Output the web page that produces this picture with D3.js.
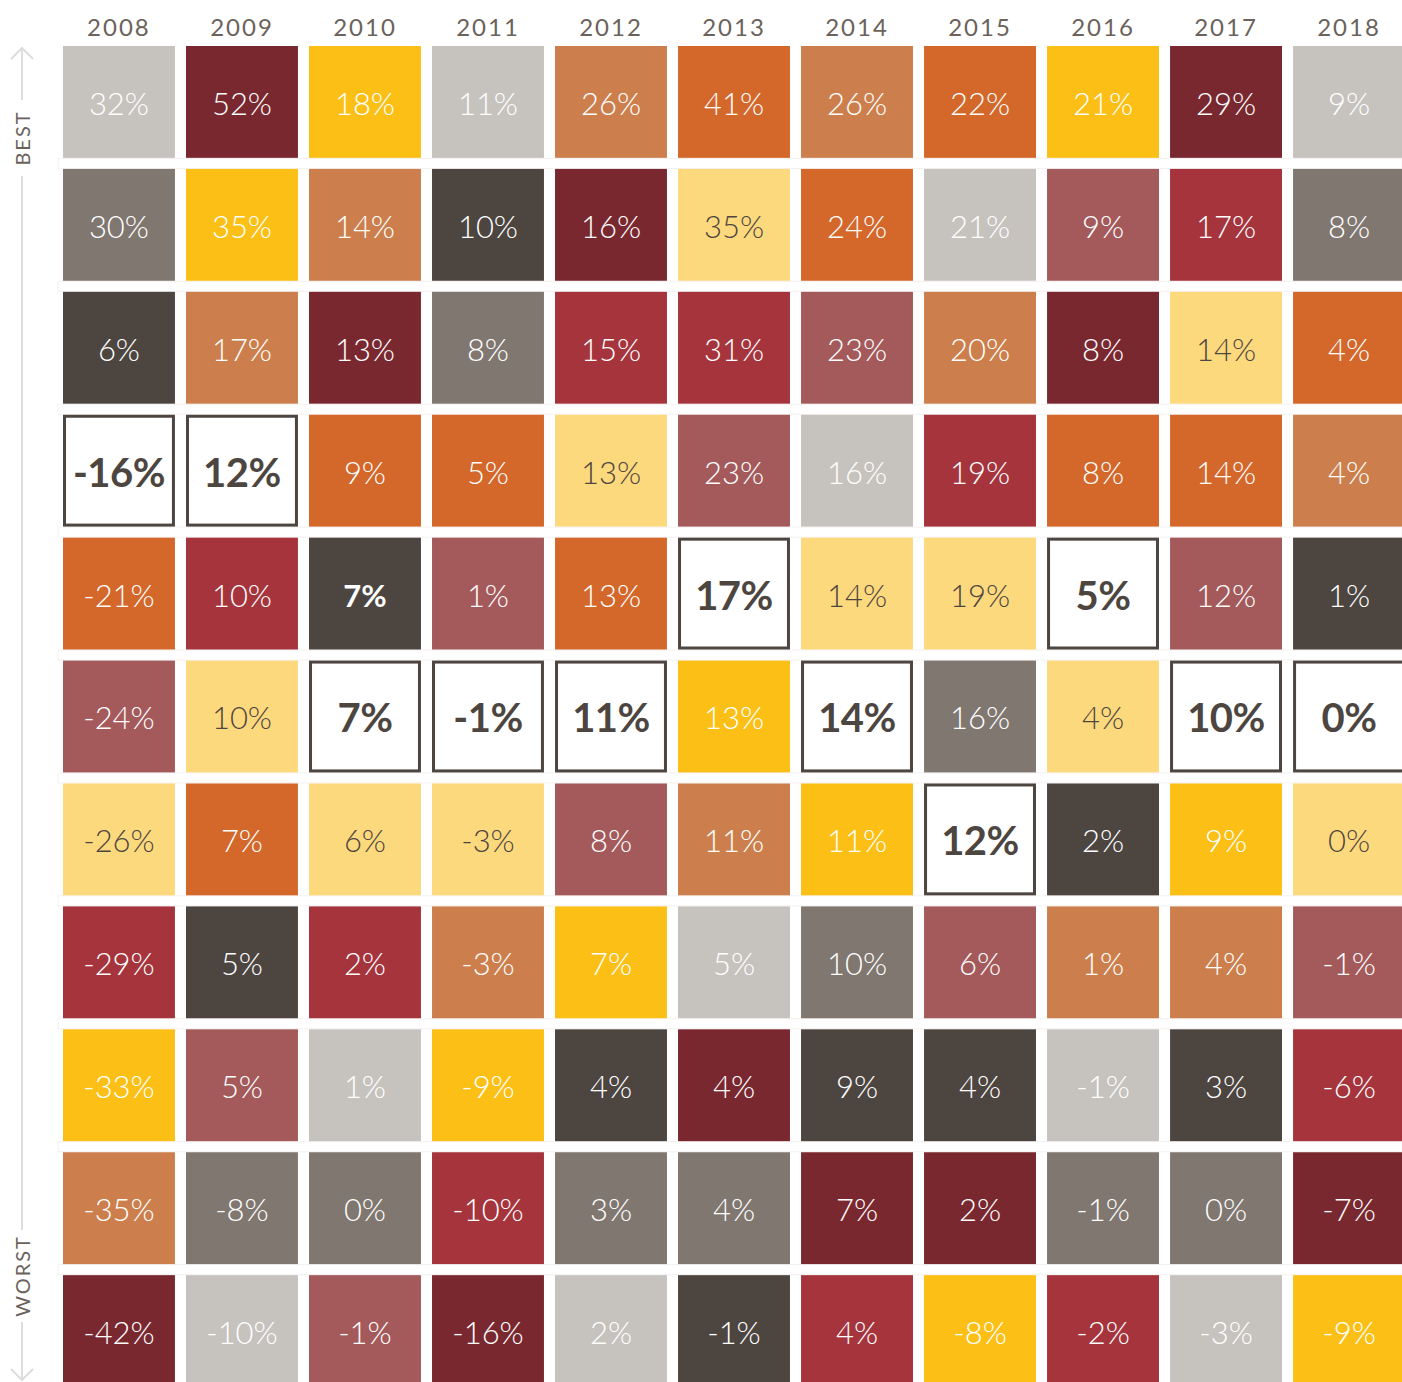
<!DOCTYPE html>
<html>
<head>
<meta charset="utf-8">
<script src="https://cdn.jsdelivr.net/npm/d3@7"></script>
<style>
  html, body { margin: 0; padding: 0; background: #fff; }
  svg { display: block; }
</style>
</head>
<body>
<svg id="quilt" width="1402" height="1382"></svg>
<script>
// ------------------------------------------------------------
// data: yearly returns ranked best -> worst, with asset class
// ------------------------------------------------------------
const years = ["2008","2009","2010","2011","2012","2013","2014","2015","2016","2017","2018"];

// asset class keys + their colours (PF = the portfolio, drawn as outlined box)
const classes = ["LG","MR","YL","TN","OR","MG","LY","DB","RD","RS","PF"];
const classColors = ["#c6c2be","#7a2830","#fbbf16","#cc7f4c","#d4672a","#7f7770","#fdd97e","#4d4540","#a5343d","#a45a5b","#ffffff"];

const rankedClasses = [
  ["LG","MG","DB","PF","OR","RS","LY","RD","YL","TN","MR"], // 2008
  ["MR","YL","TN","PF","RD","LY","OR","DB","RS","MG","LG"], // 2009
  ["YL","TN","MR","OR","DB","PF","LY","RD","LG","MG","RS"], // 2010
  ["LG","DB","MG","OR","RS","PF","LY","TN","YL","RD","MR"], // 2011
  ["TN","MR","RD","LY","OR","PF","RS","YL","DB","MG","LG"], // 2012
  ["OR","LY","RD","RS","PF","YL","TN","LG","MR","MG","DB"], // 2013
  ["TN","OR","RS","LG","LY","PF","YL","MG","DB","MR","RD"], // 2014
  ["OR","LG","TN","RD","LY","MG","PF","RS","DB","MR","YL"], // 2015
  ["YL","RS","MR","OR","PF","LY","DB","TN","LG","MG","RD"], // 2016
  ["MR","RD","LY","OR","RS","PF","YL","TN","DB","MG","LG"], // 2017
  ["LG","MG","OR","TN","DB","PF","LY","RS","RD","MR","YL"]  // 2018
];

const rankedReturns = [
  [32, 30, 6, -16, -21, -24, -26, -29, -33, -35, -42],
  [52, 35, 17, 12, 10, 10, 7, 5, 5, -8, -10],
  [18, 14, 13, 9, 7, 7, 6, 2, 1, 0, -1],
  [11, 10, 8, 5, 1, -1, -3, -3, -9, -10, -16],
  [26, 16, 15, 13, 13, 11, 8, 7, 4, 3, 2],
  [41, 35, 31, 23, 17, 13, 11, 5, 4, 4, -1],
  [26, 24, 23, 16, 14, 14, 11, 10, 9, 7, 4],
  [22, 21, 20, 19, 19, 16, 12, 6, 4, 2, -8],
  [21, 9, 8, 8, 5, 4, 2, 1, -1, -1, -2],
  [29, 17, 14, 14, 12, 10, 9, 4, 3, 0, -3],
  [9, 8, 4, 4, 1, 0, 0, -1, -6, -7, -9]
];

// odd one out in the source: a bold label on a filled cell
const boldCells = [["2010", 4]];

// ------------------------------------------------------------
// build
// ------------------------------------------------------------
const DARK = "#4d4540";
const FONT = "Lato, 'Open Sans', sans-serif";

const cells = [];
years.forEach((yr, i) => {
  rankedClasses[i].forEach((c, r) => {
    cells.push({ year: yr, rank: r, cls: c, value: rankedReturns[i][r] });
  });
});

const svg = d3.select("#quilt");

const x = d3.scaleBand().domain(years).range([63, 1405]).paddingInner(0.09).paddingOuter(0);
const y = d3.scaleBand().domain(d3.range(11)).range([46, 1387]).paddingInner(0.09).paddingOuter(0);
const color = d3.scaleOrdinal().domain(classes).range(classColors);

// year labels
svg.append("g")
  .selectAll("text")
  .data(years)
  .enter()
  .append("text")
  .attr("x", d => x(d) + x.bandwidth() / 2)
  .attr("y", 26)
  .attr("text-anchor", "middle")
  .attr("dominant-baseline", "central")
  .attr("fill", "#6b625c")
  .attr("font-family", FONT)
  .attr("font-size", "24px")
  .attr("letter-spacing", "2px")
  .text(d => d);

// faint row separators
svg.append("g")
  .selectAll("rect")
  .data(d3.range(10))
  .enter()
  .append("rect")
  .attr("x", 58)
  .attr("y", d => y(d) + y.bandwidth() + 0.5)
  .attr("width", 1344)
  .attr("height", y.step() - y.bandwidth() - 1)
  .attr("fill", "none")
  .attr("stroke", "#f5f0f0")
  .attr("stroke-width", 1);

// cells
const isBold = d => boldCells.some(b => b[0] === d.year && b[1] === d.rank);

const cell = svg.append("g")
  .selectAll("g")
  .data(cells)
  .enter()
  .append("g")
  .attr("transform", d => `translate(${x(d.year)}, ${y(d.rank)})`);

cell.append("rect")
  .attr("x", d => d.cls === "PF" ? 1.5 : 0)
  .attr("y", d => d.cls === "PF" ? 1.5 : 0)
  .attr("width", d => d.cls === "PF" ? x.bandwidth() - 3 : x.bandwidth())
  .attr("height", d => d.cls === "PF" ? y.bandwidth() - 3 : y.bandwidth())
  .attr("fill", d => color(d.cls))
  .attr("stroke", d => d.cls === "PF" ? DARK : "none")
  .attr("stroke-width", 3);

cell.append("text")
  .attr("x", x.bandwidth() / 2)
  .attr("y", y.bandwidth() / 2 + 1)
  .attr("text-anchor", "middle")
  .attr("dominant-baseline", "central")
  .attr("font-family", FONT)
  .attr("font-size", d => d.cls === "PF" ? "40px" : "31px")
  .attr("letter-spacing", d => d.cls === "PF" ? "-0.5px" : "0px")
  .attr("font-weight", d => d.cls === "PF" ? 700 : (isBold(d) ? 700 : 300))
  .attr("fill", d => (d.cls === "PF" || d.cls === "LY") ? DARK : "#ffffff")
  .text(d => `${d.value}%`);

// BEST / WORST axis on the left
const axis = svg.append("g").attr("stroke", "#dedcdc").attr("stroke-width", 2).attr("fill", "none");
axis.append("path").attr("d", "M22,48 V100 M22,176 V1230 M22,1322 V1380");
axis.append("path").attr("d", "M11,59 L22,48 L33,59");
axis.append("path").attr("d", "M11,1369 L22,1380 L33,1369");

[["BEST", 138], ["WORST", 1276]].forEach(([label, cy]) => {
  svg.append("text")
    .attr("transform", `translate(22, ${cy}) rotate(-90)`)
    .attr("text-anchor", "middle")
    .attr("dominant-baseline", "central")
    .attr("fill", "#6b625c")
    .attr("font-family", FONT)
    .attr("font-size", "20px")
    .attr("letter-spacing", "2px")
    .text(label);
});
</script>
</body>
</html>
